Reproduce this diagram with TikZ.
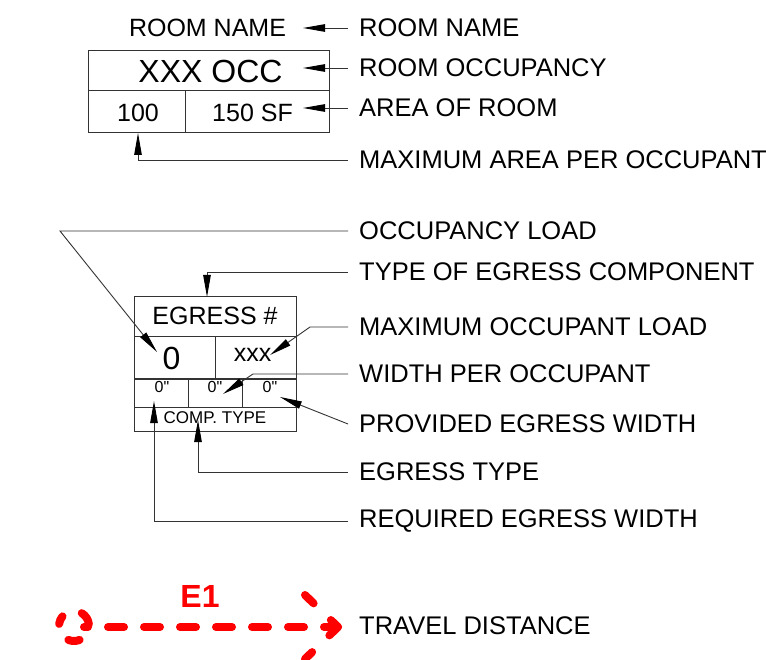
\documentclass[tikz,border=0pt]{standalone}
\usepackage{fontspec}
\setmainfont{Liberation Sans}
\newfontfamily\inchfont{Liberation Sans}
\usetikzlibrary{arrows.meta}
\begin{document}
\begin{tikzpicture}[x=1pt,y=-1pt,
	box/.style={line width=1pt,draw=black!80},
	leader/.style={line width=0.9pt,draw=black!80,-{Triangle[length=22pt,width=7.5pt,color=black]}},
	lbl/.style={anchor=west,inner xsep=11pt,inner ysep=0pt,font=\fontsize{25.5}{30}\selectfont},
	txt/.style={anchor=base,inner sep=0pt,font=\fontsize{25}{30}\selectfont},
	inch/.style={txt,font=\inchfont\fontsize{16}{19}\selectfont},
	travel/.style={red,line width=8pt,line cap=round,line join=round}]
	\useasboundingbox (0,0) rectangle (766,660);
	% room tag
	\draw[box] (88,51) rectangle (329,133);
	\draw[box] (88,91) -- (329,91);
	\draw[box] (185,91) -- (185,133);
	\node[txt] (rname) at (207.5,37) {ROOM NAME};
	\node[txt,font=\fontsize{32}{38}\selectfont] (rocc) at (210.5,83) {XXX OCC};
	\node[txt] (rmax) at (138,122) {100};
	\node[txt] (rarea) at (252.5,122) {150 SF};
	\node[lbl] (lrname) at (348,28) {ROOM NAME};
	\node[lbl] (lrocc) at (348,68) {ROOM OCCUPANCY};
	\node[lbl] (lrarea) at (348,108) {AREA OF ROOM};
	\node[lbl] (lrmax) at (348,160) {MAXIMUM AREA PER OCCUPANT};
	\coordinate (trmax) at (138,133);
	\draw[leader] (lrname.west) -- ++(-45,0);
	\draw[leader] (lrocc.west) -- ++(-45,0);
	\draw[leader] (lrarea.west) -- ++(-45,0);
	\draw[leader] (lrmax.west) -| (trmax);
	% egress tag
	\draw[box] (134,297) rectangle (296,431);
	\foreach \y in {337,379,407} \draw[box] (134,\y) -- (296,\y);
	\draw[box] (215,337) -- (215,379);
	\draw[box] (188,379) -- (188,407);
	\draw[box] (242,379) -- (242,407);
	\node[txt] (egnum) at (215,325) {EGRESS \#};
	\node[txt,font=\fontsize{32}{38}\selectfont] (egload) at (171.5,370) {0};
	\node[txt] (egmax) at (252.5,362) {xxx};
	\node[inch] (egreq) at (162,392) {0"};
	\node[inch] (egper) at (215,392) {0"};
	\node[inch] (egprov) at (270,392) {0"};
	\node[txt,font=\fontsize{17}{20}\selectfont] (egtype) at (215,423) {COMP. TYPE};
	\node[lbl] (leload) at (348,231) {OCCUPANCY LOAD};
	\node[lbl] (lecomp) at (348,272) {TYPE OF EGRESS COMPONENT};
	\node[lbl] (lemax) at (348,327) {MAXIMUM OCCUPANT LOAD};
	\node[lbl] (leper) at (348,374) {WIDTH PER OCCUPANT};
	\node[lbl] (leprov) at (348,424) {PROVIDED EGRESS WIDTH};
	\node[lbl] (letype) at (348,472) {EGRESS TYPE};
	\node[lbl] (lereq) at (348,521) {REQUIRED EGRESS WIDTH};
	\coordinate (teload) at (157,352);
	\coordinate (tecomp) at (207,297);
	\coordinate (temax) at (270,355);
	\coordinate (teper) at (223,394);
	\coordinate (teprov) at (280,397);
	\coordinate (tetype) at (198,420);
	\coordinate (tereq) at (154,401);
	\draw[leader] (leload.west) -- (60,231) -- (teload);
	\draw[leader] (lecomp.west) -| (tecomp);
	\draw[leader] (lemax.west) -- (310,327) -- (temax);
	\draw[leader] (leper.west) -- (253,374) -- (teper);
	\draw[leader] (leprov.west) -- (teprov);
	\draw[leader] (letype.west) -| (tetype);
	\draw[leader] (lereq.west) -| (tereq);
	% travel distance
	\coordinate (tdstart) at (84,627);
	\coordinate (tdtip) at (338,627);
	\draw[travel] (74,626) ++(-172:15) arc[start angle=-172,end angle=-140,radius=15];
	\draw[travel] (74,626) ++(-59:15) arc[start angle=-59,end angle=-7,radius=15];
	\draw[travel] (74,626) ++(68:15) arc[start angle=68,end angle=112,radius=15];
	\draw[travel,dash pattern=on 16pt off 20pt,dash phase=12pt] (tdstart) -- (tdtip);
	\draw[travel,dash pattern=on 12pt off 24pt on 22pt off 24pt on 14pt] (305,595) -- (tdtip) -- (305,659);
	\node[txt,font=\bfseries\fontsize{32}{38}\selectfont,text=red] (e1) at (200,607) {E1};
	\node[lbl] (ltravel) at (348,626) {TRAVEL DISTANCE};
\end{tikzpicture}
\end{document}
